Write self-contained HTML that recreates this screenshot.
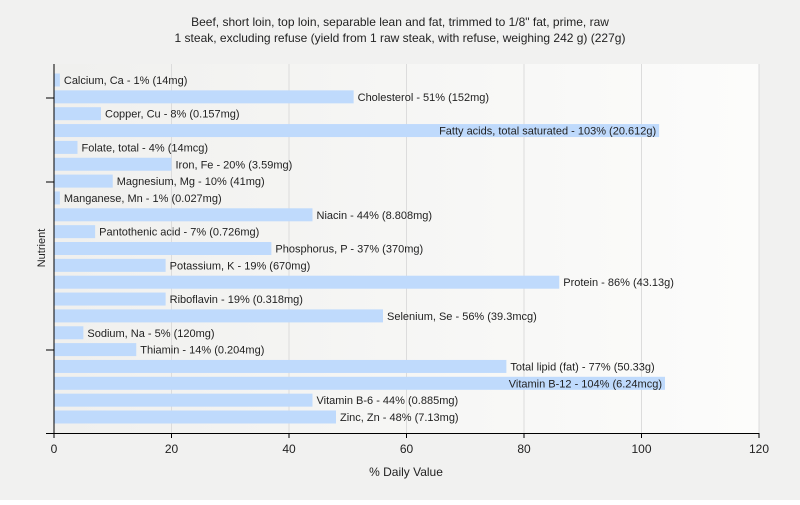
<!DOCTYPE html>
<html><head><meta charset="utf-8"><style>
body{margin:0;background:#fff;}
svg text{font-family:"Liberation Sans",sans-serif;}
</style></head><body>
<svg id="c" width="800" height="500" xmlns="http://www.w3.org/2000/svg">
<defs><linearGradient id="bg" x1="0" x2="1" y1="0" y2="0"><stop offset="0" stop-color="#f0f0ee"/><stop offset="1" stop-color="#fcfcfb"/></linearGradient></defs>
<rect width="800" height="500" fill="#f1f1f0"/>
<rect x="54" y="64" width="705" height="369" fill="url(#bg)"/>
<text x="400" y="26" text-anchor="middle" font-size="12" fill="#222">Beef, short loin, top loin, separable lean and fat, trimmed to 1/8" fat, prime, raw</text>
<text x="400" y="42" text-anchor="middle" font-size="12" fill="#222">1 steak, excluding refuse (yield from 1 raw steak, with refuse, weighing 242 g) (227g)</text>
<g id="grid"></g><g id="bars"></g><g id="axes"></g>
<text x="406" y="476" text-anchor="middle" font-size="12" fill="#222">% Daily Value</text>
<text transform="translate(45,248) rotate(-90)" text-anchor="middle" font-size="11" fill="#222">Nutrient</text>
</svg>
<script>
const categories=["Calcium, Ca","Cholesterol","Copper, Cu","Fatty acids, total saturated","Folate, total","Iron, Fe","Magnesium, Mg","Manganese, Mn","Niacin","Pantothenic acid","Phosphorus, P","Potassium, K","Protein","Riboflavin","Selenium, Se","Sodium, Na","Thiamin","Total lipid (fat)","Vitamin B-12","Vitamin B-6","Zinc, Zn"];
const values=[1,51,8,103,4,20,10,1,44,7,37,19,86,19,56,5,14,77,104,44,48];
const amounts=["14mg","152mg","0.157mg","20.612g","14mcg","3.59mg","41mg","0.027mg","8.808mg","0.726mg","370mg","670mg","43.13g","0.318mg","39.3mcg","120mg","0.204mg","50.33g","6.24mcg","0.885mg","7.13mg"];
const xTicks=[0,20,40,60,80,100,120];
const NS="http://www.w3.org/2000/svg";
const x0=54,x1=759,xmax=120,yTop=73.5,pitch=16.85,bh=13;
const xs=v=>x0+v/xmax*(x1-x0);
const ys=i=>yTop+i*pitch;
function mk(t,a,p){const e=document.createElementNS(NS,t);for(const k in a)e.setAttribute(k,a[k]);p.appendChild(e);return e;}
const grid=document.getElementById('grid'),bars=document.getElementById('bars'),axes=document.getElementById('axes');
xTicks.forEach(t=>{
  if(t>0){const g=mk('line',{x1:xs(t),x2:xs(t),y1:64,y2:433,stroke:'#dcdcdc'},grid);
  
  }
  const tk=mk('line',{x1:xs(t),x2:xs(t),y1:433,y2:438,stroke:'#000'},axes);
  
  
  const tl=mk('text',{x:xs(t),y:453,'text-anchor':'middle','font-size':12,fill:'#222'},axes);
  tl.textContent=t;
  
  
});
values.forEach((v,i)=>{
  const y=ys(i);
  const r=mk('rect',{x:x0,y:y,width:xs(v)-x0,height:bh,fill:'#bfdafc'},bars);
  
  
  const lab=categories[i]+' - '+v+'% ('+amounts[i]+')';
  const tx=mk('text',{y:y+bh/2+4,'font-size':11,fill:'#222'},bars);
  tx.textContent=lab;
  
  
  const w=tx.getComputedTextLength();
  if(xs(v)+4+w>x1){tx.setAttribute('x',xs(v)-3);tx.setAttribute('text-anchor','end');}
  else tx.setAttribute('x',xs(v)+4);
});
const ax=mk('line',{x1:54,x2:54,y1:64,y2:434,stroke:'#000'},axes);


const bx=mk('line',{x1:46,x2:759,y1:433.5,y2:433.5,stroke:'#000'},axes);


[98,182,350].forEach(y=>{const t=mk('line',{x1:46,x2:54,y1:y,y2:y,stroke:'#000'},axes);

});
</script>
</body></html>
